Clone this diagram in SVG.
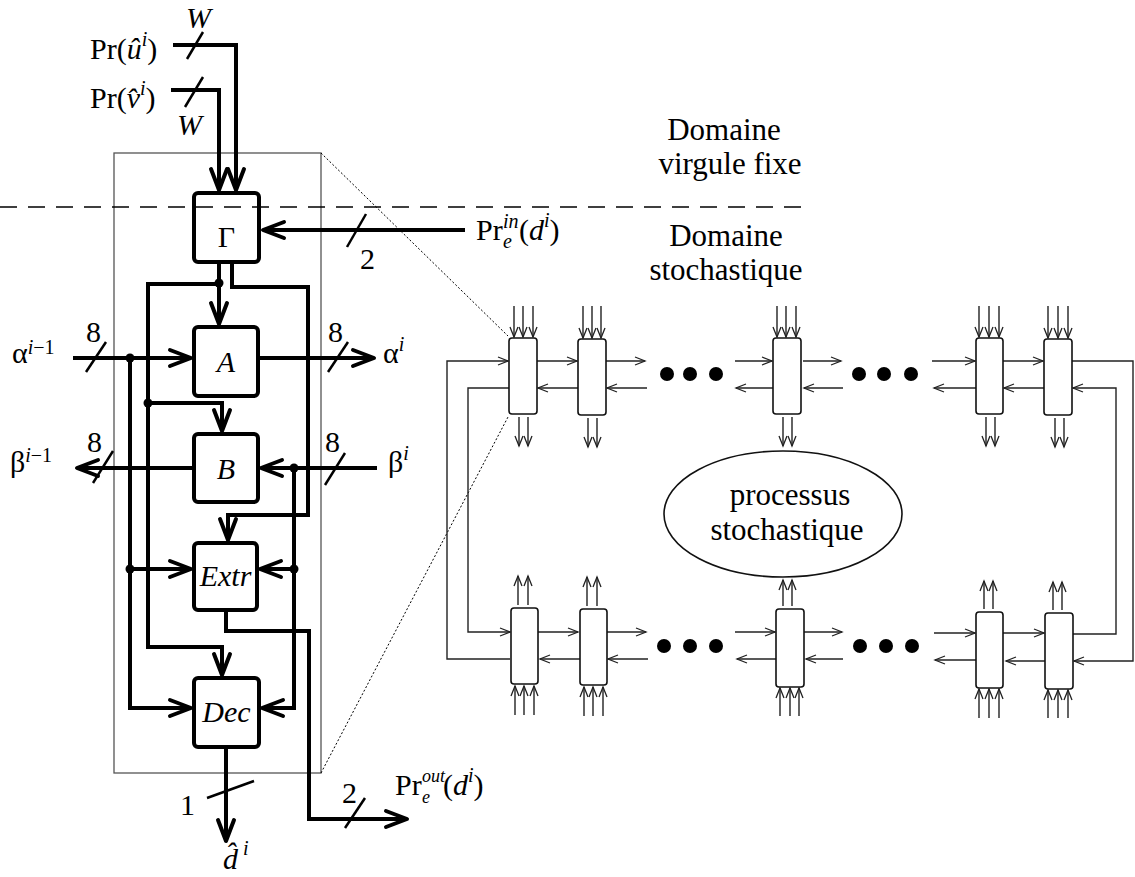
<svg xmlns="http://www.w3.org/2000/svg" width="1135" height="877" viewBox="0 0 1135 877">
<style>
.t{font-family:"Liberation Serif","Times New Roman",serif;font-size:30px;fill:#000}
.it{font-style:italic}
.sm{font-size:20px}
.xs{font-size:18px}
.lab{font-family:"Liberation Serif","Times New Roman",serif;font-size:31px;fill:#000;text-anchor:middle}
.thick{stroke:#000;stroke-width:4;fill:none}
.box{stroke:#000;stroke-width:4;fill:none}
.slash{stroke:#000;stroke-width:2.5;fill:none}
.thin{stroke:#222;stroke-width:1.4;fill:none}
.node{stroke:#111;stroke-width:1.6;fill:#fff}
.dot{fill:#000}
</style>
<defs>
<marker id="ah" markerUnits="userSpaceOnUse" viewBox="-24 -12 28 24" refX="0" refY="0" markerWidth="28" markerHeight="24" orient="auto" overflow="visible">
<path d="M-21,-8 L0,0 L-21,8" fill="none" stroke="#000" stroke-width="4" stroke-linejoin="round" stroke-linecap="round"/>
</marker>
<marker id="as" markerUnits="userSpaceOnUse" viewBox="-12 -6 14 12" refX="0" refY="0" markerWidth="14" markerHeight="12" orient="auto" overflow="visible">
<path d="M-10,-4 L0,0 L-10,4" fill="none" stroke="#222" stroke-width="1.3"/>
</marker>
</defs>
<rect width="1135" height="877" fill="#fff"/>

<g id="frame">
<rect x="114" y="153" width="207" height="620" fill="none" stroke="#555" stroke-width="1.3"/>
<line x1="0" y1="207" x2="808" y2="207" stroke="#000" stroke-width="1.5" stroke-dasharray="17 11"/>
<line x1="321" y1="153" x2="508" y2="336" stroke="#000" stroke-width="1" stroke-dasharray="2 2"/>
<line x1="321" y1="773" x2="508" y2="417" stroke="#000" stroke-width="1" stroke-dasharray="2 2"/>
</g>

<g id="connectors">
<path class="thick" d="M173,45 H236 V190" marker-end="url(#ah)"/>
<path class="thick" d="M171,90 H219 V190" marker-end="url(#ah)"/>
<path class="thick" d="M465,230 H263" marker-end="url(#ah)"/>
<path class="thick" d="M219,262 V324" marker-end="url(#ah)"/>
<path class="thick" d="M232,262 V287 H308 V515 H228 V540" marker-end="url(#ah)"/>
<path class="thick" d="M219,284 H148 V647 H222 V675" marker-end="url(#ah)"/>
<path class="thick" d="M148,403 H222 V431" marker-end="url(#ah)"/>
<path class="thick" d="M73,358 H191" marker-end="url(#ah)"/>
<path class="thick" d="M130,358 V708 H191" marker-end="url(#ah)"/>
<path class="thick" d="M130,569 H191" marker-end="url(#ah)"/>
<path class="thick" d="M258,358 H374" marker-end="url(#ah)"/>
<path class="thick" d="M194,468 H77" marker-end="url(#ah)"/>
<path class="thick" d="M377,468 H261" marker-end="url(#ah)"/>
<path class="thick" d="M294,468 V708 H262" marker-end="url(#ah)"/>
<path class="thick" d="M294,569 H260" marker-end="url(#ah)"/>
<path class="thick" d="M226,610 V631 H309 V819 H407" marker-end="url(#ah)"/>
<path class="thick" d="M226,747 V841" marker-end="url(#ah)"/>
<circle class="dot" cx="219" cy="283" r="4.5"/>
<circle class="dot" cx="148" cy="403" r="4.5"/>
<circle class="dot" cx="130" cy="358" r="4.5"/>
<circle class="dot" cx="130" cy="569" r="4.5"/>
<circle class="dot" cx="294" cy="468" r="4.5"/>
<circle class="dot" cx="294" cy="569" r="4.5"/>
<line class="slash" x1="187" y1="59" x2="203" y2="32"/>
<line class="slash" x1="185" y1="107" x2="203" y2="77"/>
<line class="slash" x1="347" y1="247" x2="366" y2="214"/>
<line class="slash" x1="86" y1="372" x2="106" y2="342"/>
<line class="slash" x1="328" y1="372" x2="348" y2="342"/>
<line class="slash" x1="93" y1="483" x2="113" y2="451"/>
<line class="slash" x1="325" y1="485" x2="345" y2="453"/>
<line class="slash" x1="345" y1="828" x2="365" y2="798"/>
<line class="slash" x1="207" y1="798" x2="254" y2="781"/>

<path class="thin" d="M510,659 H447 V361 H508" marker-end="url(#as)"/>
<path class="thin" d="M509,388 H468 V632 H510" marker-end="url(#as)"/>
<path class="thin" d="M537,361 H577" marker-end="url(#as)"/>
<path class="thin" d="M578,388 H538" marker-end="url(#as)"/>
<path class="thin" d="M606,361 H645" marker-end="url(#as)"/>
<path class="thin" d="M647,388 H607" marker-end="url(#as)"/>
<path class="thin" d="M735,361 H772" marker-end="url(#as)"/>
<path class="thin" d="M773,388 H736" marker-end="url(#as)"/>
<path class="thin" d="M803,361 H841" marker-end="url(#as)"/>
<path class="thin" d="M843,388 H804" marker-end="url(#as)"/>
<path class="thin" d="M932,361 H975" marker-end="url(#as)"/>
<path class="thin" d="M976,388 H934" marker-end="url(#as)"/>
<path class="thin" d="M1003,361 H1043" marker-end="url(#as)"/>
<path class="thin" d="M1044,388 H1004" marker-end="url(#as)"/>
<path class="thin" d="M1072,361 H1133 V661 H1074" marker-end="url(#as)"/>
<path class="thin" d="M1073,634 H1116 V388 H1073" marker-end="url(#as)"/>
<path class="thin" d="M538,632 H578" marker-end="url(#as)"/>
<path class="thin" d="M580,659 H540" marker-end="url(#as)"/>
<path class="thin" d="M607,632 H646" marker-end="url(#as)"/>
<path class="thin" d="M648,659 H608" marker-end="url(#as)"/>
<path class="thin" d="M735,632 H775" marker-end="url(#as)"/>
<path class="thin" d="M776,659 H737" marker-end="url(#as)"/>
<path class="thin" d="M804,632 H842" marker-end="url(#as)"/>
<path class="thin" d="M843,659 H806" marker-end="url(#as)"/>
<path class="thin" d="M934,633 H975" marker-end="url(#as)"/>
<path class="thin" d="M976,660 H935" marker-end="url(#as)"/>
<path class="thin" d="M1003,633 H1044" marker-end="url(#as)"/>
<path class="thin" d="M1045,661 H1006" marker-end="url(#as)"/>
<g class="thin" marker-end="url(#as)">
<path d="M514,306 V337"/><path d="M523,306 V337"/><path d="M533,306 V337"/>
<path d="M519,417 V446"/><path d="M528,417 V446"/>
<path d="M583,306 V338"/><path d="M592,306 V338"/><path d="M601,306 V338"/>
<path d="M588,418 V447"/><path d="M597,418 V447"/>
<path d="M777,306 V337"/><path d="M786,306 V337"/><path d="M796,306 V337"/>
<path d="M783,417 V446"/><path d="M792,417 V446"/>
<path d="M979,306 V337"/><path d="M989,306 V337"/><path d="M999,306 V337"/>
<path d="M986,417 V446"/><path d="M995,417 V446"/>
<path d="M1048,306 V338"/><path d="M1058,306 V338"/><path d="M1068,306 V338"/>
<path d="M1055,418 V447"/><path d="M1064,418 V447"/>
<path d="M518,605 V576"/><path d="M528,605 V576"/>
<path d="M515,715 V686"/><path d="M524,715 V686"/><path d="M534,715 V686"/>
<path d="M587,606 V577"/><path d="M597,606 V577"/>
<path d="M584,716 V687"/><path d="M593,716 V687"/><path d="M603,716 V687"/>
<path d="M783,606 V580"/><path d="M792,606 V580"/>
<path d="M780,716 V688"/><path d="M790,716 V688"/><path d="M799,716 V688"/>
<path d="M984,609 V581"/><path d="M993,609 V581"/>
<path d="M979,718 V689"/><path d="M989,718 V689"/><path d="M999,718 V689"/>
<path d="M1053,610 V582"/><path d="M1062,610 V582"/>
<path d="M1048,718 V690"/><path d="M1058,718 V690"/><path d="M1068,718 V690"/>
</g>
</g>

<g id="gamma"><rect class="box" x="194" y="193" width="65" height="69" rx="4"/><text class="t" x="226.5" y="247" text-anchor="middle">Γ</text></g>
<g id="A"><rect class="box" x="194" y="327" width="64" height="69" rx="4"/><text class="t it" x="226" y="372" text-anchor="middle">A</text></g>
<g id="B"><rect class="box" x="194" y="434" width="64" height="68" rx="4"/><text class="t it" x="226" y="479" text-anchor="middle">B</text></g>
<g id="Extr"><rect class="box" x="194" y="543" width="63" height="67" rx="4"/><text class="t it" x="225.5" y="586" text-anchor="middle">Extr</text></g>
<g id="Dec"><rect class="box" x="194" y="678" width="65" height="69" rx="4"/><text class="t it" x="226.5" y="722" text-anchor="middle">Dec</text></g>

<g id="n1"><rect class="node" x="509" y="338" width="28" height="76" rx="3"/></g>
<g id="n2"><rect class="node" x="578" y="339" width="28" height="76" rx="3"/></g>
<g id="n3"><rect class="node" x="773" y="338" width="28" height="76" rx="3"/></g>
<g id="n4"><rect class="node" x="976" y="338" width="27" height="76" rx="3"/></g>
<g id="n5"><rect class="node" x="1044" y="339" width="28" height="76" rx="3"/></g>
<g id="b1"><rect class="node" x="511" y="608" width="27" height="76" rx="3"/></g>
<g id="b2"><rect class="node" x="580" y="609" width="27" height="76" rx="3"/></g>
<g id="b3"><rect class="node" x="776" y="609" width="28" height="78" rx="3"/></g>
<g id="b4"><rect class="node" x="976" y="612" width="27" height="76" rx="3"/></g>
<g id="b5"><rect class="node" x="1045" y="613" width="28" height="76" rx="3"/></g>
<g id="dots">
<circle class="dot" cx="667" cy="374" r="7"/><circle class="dot" cx="690" cy="374" r="7"/><circle class="dot" cx="716" cy="374" r="7"/>
<circle class="dot" cx="859" cy="374" r="7"/><circle class="dot" cx="884" cy="374" r="7"/><circle class="dot" cx="911" cy="374" r="7"/>
<circle class="dot" cx="664" cy="646" r="7"/><circle class="dot" cx="690" cy="646" r="7"/><circle class="dot" cx="716" cy="646" r="7"/>
<circle class="dot" cx="860" cy="646" r="7"/><circle class="dot" cx="886" cy="646" r="7"/><circle class="dot" cx="912" cy="646" r="7"/>
</g>
<g id="process">
<ellipse cx="783" cy="514" rx="119" ry="63" fill="none" stroke="#111" stroke-width="1.6"/>
<text class="lab"><tspan x="790" y="505">processus</tspan><tspan x="787" y="540">stochastique</tspan></text>
</g>

<g id="labels">
<text class="lab"><tspan x="724" y="140">Domaine</tspan><tspan x="730" y="174">virgule fixe</tspan></text>
<text class="lab"><tspan x="726" y="246">Domaine</tspan><tspan x="726" y="280">stochastique</tspan></text>

<text class="t" x="90" y="59">Pr(<tspan class="it">û</tspan><tspan class="it sm" dy="-13">i</tspan><tspan dy="13">)</tspan></text>
<text class="t" x="90" y="108">Pr(<tspan class="it">v̂</tspan><tspan class="it sm" dy="-13">i</tspan><tspan dy="13">)</tspan></text>
<text class="t it" x="186" y="28">W</text>
<text class="t it" x="177" y="135">W</text>

<text class="t" x="476" y="240">Pr<tspan class="it sm" x="503" y="228">in</tspan><tspan class="it sm" x="503" y="248">e</tspan><tspan x="519" y="240">(</tspan><tspan class="it">d</tspan><tspan class="it sm" dy="-13">i</tspan><tspan dy="13">)</tspan></text>
<text class="t" x="360" y="269">2</text>

<text class="t" x="12" y="363">α<tspan class="sm" dy="-9"><tspan class="it">i</tspan>−1</tspan></text>
<text class="t" x="86" y="342">8</text>
<text class="t" x="328" y="342">8</text>
<text class="t" x="383" y="363">α<tspan class="it sm" dy="-12">i</tspan></text>
<text class="t" x="10" y="472">β<tspan class="sm" dy="-10"><tspan class="it">i</tspan>−1</tspan></text>
<text class="t" x="87" y="452">8</text>
<text class="t" x="325" y="452">8</text>
<text class="t" x="388" y="472">β<tspan class="it sm" dy="-12">i</tspan></text>

<text class="t" x="180" y="815">1</text>
<text class="t" x="342" y="803">2</text>
<text class="t" x="395" y="795">Pr<tspan class="it xs" x="422" y="782">out</tspan><tspan class="it xs" x="422" y="803">e</tspan><tspan x="443" y="795">(</tspan><tspan class="it">d</tspan><tspan class="it sm" dy="-13">i</tspan><tspan dy="13">)</tspan></text>

<text class="t it" x="223" y="869">d̂<tspan class="sm" dx="5" dy="-14">i</tspan></text>
</g>
</svg>
